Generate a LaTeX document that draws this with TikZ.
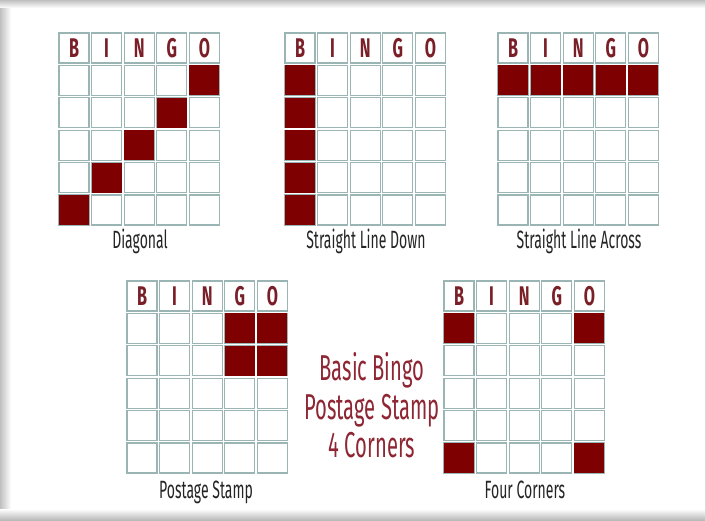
\documentclass[tikz,border=0pt]{standalone}
\usepackage{fontspec}
\setmainfont{Fira Sans}
\newfontfamily\agency[FakeStretch=0.56]{Fira Sans}
\newfontfamily\agencyb[FakeStretch=0.6]{Fira Sans}
\definecolor{maroon}{HTML}{7E0000}
\definecolor{cellline}{HTML}{9BB4B4}
\definecolor{lettercol}{HTML}{7A1F28}
\definecolor{midtext}{HTML}{8E2633}
\definecolor{labeltext}{HTML}{242424}
\tikzset{
  cell/.style={draw=cellline, line width=1.2pt, minimum size=30pt, inner sep=0pt, fill=white},
  headcell/.style={cell, font=\agencyb\bfseries\fontsize{27}{27}\selectfont, text=lettercol},
  cardlabel/.style={font=\agency\fontsize{25}{25}\selectfont, text=labeltext, anchor=base},
  midlabel/.style={font=\agency\fontsize{36}{36}\selectfont, text=midtext, anchor=base},
}
\newcommand\bingocard[4]{%
  \foreach \c/\L in {0/B,1/I,2/N,3/G,4/O}
    \node[headcell] (#1-h\c) at ({#2+15+32.6*\c},{#3+15}) {\L};
  \foreach \r in {1,...,5}
    \foreach \c in {0,...,4}
      \node[cell] (#1-\r-\c) at ({#2+15+32.6*\c},{#3+15+32.4*\r}) {};
  \foreach \r/\c in {#4}
    \fill[maroon] ([shift={(0.6pt,0.6pt)}]#1-\r-\c.south west) rectangle ([shift={(-0.6pt,-0.6pt)}]#1-\r-\c.north east);
}
\begin{document}
\begin{tikzpicture}[x=1pt,y=-1pt]
\useasboundingbox (0,0) rectangle (706,521);
% frame
\fill[white] (0,0) rectangle (706,521);
\shade[left color=gray!50, right color=white] (0,0) rectangle (11,521);
\shade[top color=gray!50, bottom color=white] (0,0) rectangle (706,8);
\shade[top color=white, bottom color=gray!60] (0,509) rectangle (706,521);
\fill[gray!30] (705,0) rectangle (706,521);
% cards
\bingocard{d}{59}{33}{5/0,4/1,3/2,2/3,1/4}
\bingocard{sd}{285}{33}{1/0,2/0,3/0,4/0,5/0}
\bingocard{sa}{498}{33}{1/0,1/1,1/2,1/3,1/4}
\bingocard{ps}{127}{281}{1/3,1/4,2/3,2/4}
\bingocard{fc}{444}{281}{1/0,1/4,5/0,5/4}
% labels
\node[cardlabel] (ld) at (140,248) {Diagonal};
\node[cardlabel] (lsd) at (366,248) {Straight Line Down};
\node[cardlabel] (lsa) at (579,248) {Straight Line Across};
\node[cardlabel] (lps) at (206,498) {Postage Stamp};
\node[cardlabel] (lfc) at (525,498) {Four Corners};
% middle text
\node[midlabel] (m1) at (372,380) {Basic Bingo};
\node[midlabel] (m2) at (372,419) {Postage Stamp};
\node[midlabel] (m3) at (372,457) {4 Corners};
\end{tikzpicture}
\end{document}
